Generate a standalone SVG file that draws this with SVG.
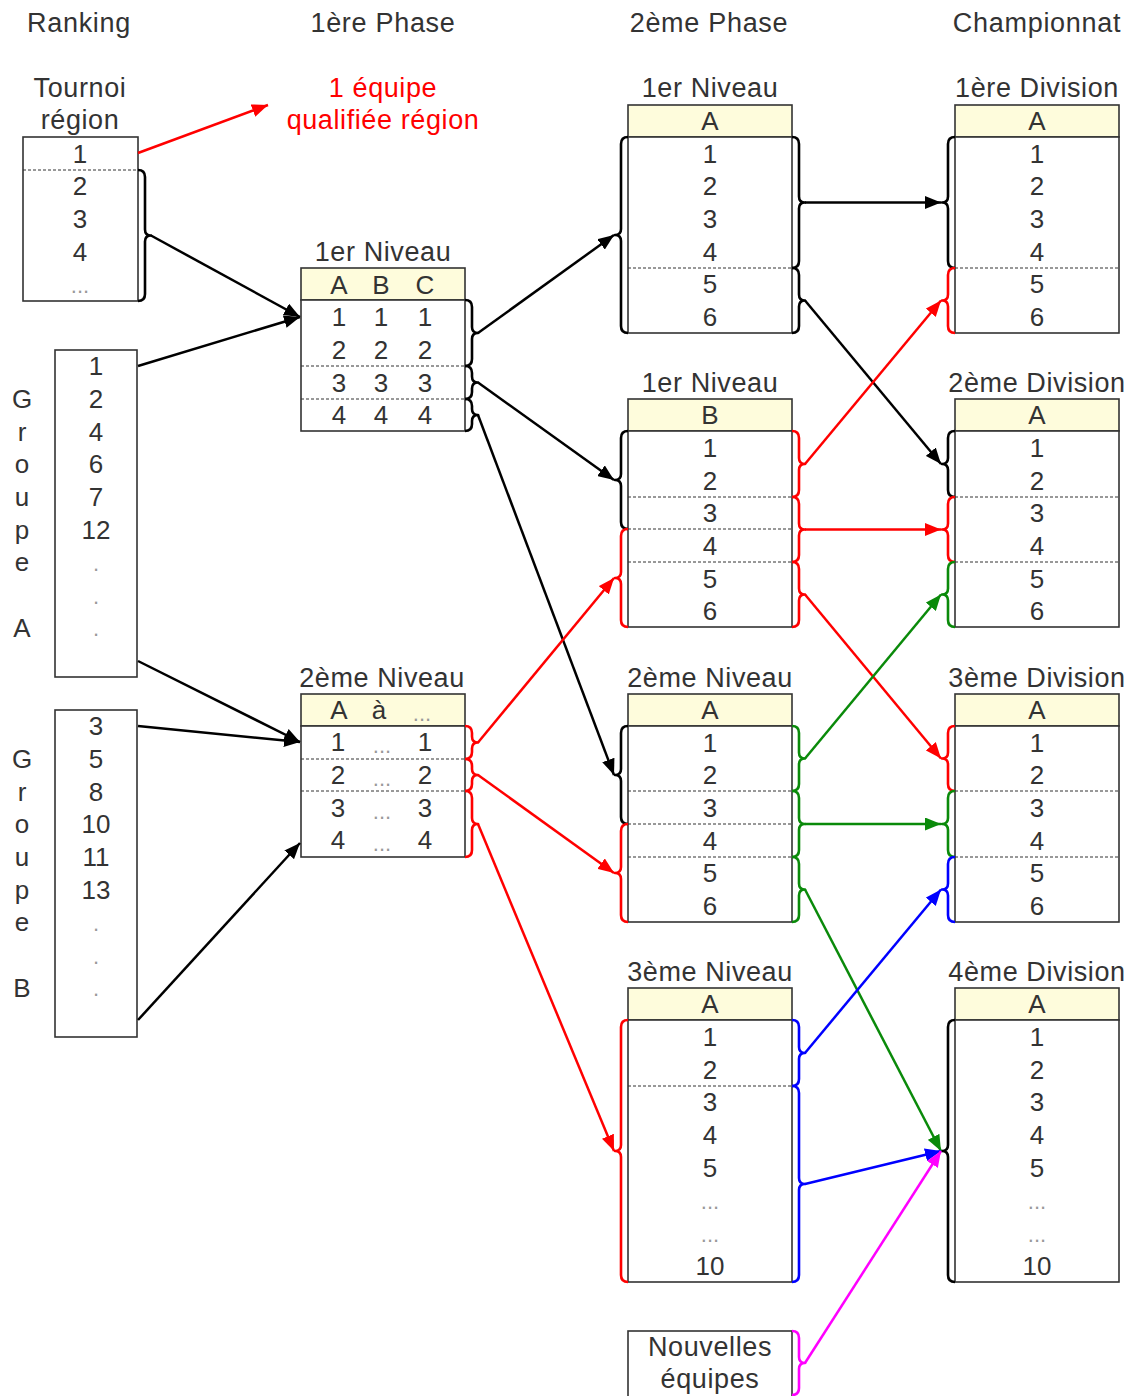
<svg xmlns="http://www.w3.org/2000/svg" width="1136" height="1396" viewBox="0 0 1136 1396">
<style>
text{font-family:"Liberation Sans",Arial,sans-serif;fill:#333;text-anchor:middle}
.h{font-size:27px;letter-spacing:0.7px}
.l{font-size:27px;letter-spacing:0.6px}
.c{font-size:26px}
.d{font-size:22px;fill:#999}
.red{fill:#f00}
.hd{fill:#fefcdc;stroke:#333;stroke-width:1.6}
.bx{fill:#fff;stroke:#333;stroke-width:1.6}
.ds{stroke:#333;stroke-width:1;stroke-dasharray:3 2}
.br{fill:none;stroke-width:2.6;stroke-linejoin:round}
.cn{fill:none;stroke-width:2.5}
.k{stroke:#000}.r{stroke:#f00}.g{stroke:#0a8a0a}.b{stroke:#00f}.m{stroke:#f0f}
</style>
<defs>
<marker id="ak" markerUnits="userSpaceOnUse" markerWidth="16" markerHeight="13" refX="16" refY="6.5" orient="auto"><path d="M0 0L16 6.5L0 13z" fill="#000"/></marker>
<marker id="ar" markerUnits="userSpaceOnUse" markerWidth="16" markerHeight="13" refX="16" refY="6.5" orient="auto"><path d="M0 0L16 6.5L0 13z" fill="#f00"/></marker>
<marker id="ag" markerUnits="userSpaceOnUse" markerWidth="16" markerHeight="13" refX="16" refY="6.5" orient="auto"><path d="M0 0L16 6.5L0 13z" fill="#0a8a0a"/></marker>
<marker id="ab" markerUnits="userSpaceOnUse" markerWidth="16" markerHeight="13" refX="16" refY="6.5" orient="auto"><path d="M0 0L16 6.5L0 13z" fill="#00f"/></marker>
<marker id="am" markerUnits="userSpaceOnUse" markerWidth="16" markerHeight="13" refX="16" refY="6.5" orient="auto"><path d="M0 0L16 6.5L0 13z" fill="#f0f"/></marker>
</defs>
<rect width="1136" height="1396" fill="#fff"/>

<g id="headers">
<text class="h" x="79" y="32">Ranking</text>
<text class="h" x="383" y="32">1ère Phase</text>
<text class="h" x="709" y="32">2ème Phase</text>
<text class="h" x="1037" y="32">Championnat</text>
</g>

<g id="tournoi">
<text class="l" x="80" y="97">Tournoi</text>
<text class="l" x="80" y="129">région</text>
<rect class="bx" x="23" y="137" width="115" height="164"/>
<line class="ds" x1="23" y1="170" x2="138" y2="170"/>
<text class="c" x="80" y="163">1</text>
<text class="c" x="80" y="195">2</text>
<text class="c" x="80" y="228">3</text>
<text class="c" x="80" y="261">4</text>
<text class="d" x="80" y="293">...</text>
</g>

<g id="qualif">
<text class="l red" x="383" y="97">1 équipe</text>
<text class="l red" x="383" y="129">qualifiée région</text>
</g>

<g id="groupeA">
<rect class="bx" x="55" y="350" width="82" height="327"/>
<text class="c" x="96" y="375">1</text>
<text class="c" x="96" y="408">2</text>
<text class="c" x="96" y="441">4</text>
<text class="c" x="96" y="473">6</text>
<text class="c" x="96" y="506">7</text>
<text class="c" x="96" y="539">12</text>
<text class="d" x="96" y="571">.</text>
<text class="d" x="96" y="604">.</text>
<text class="d" x="96" y="636">.</text>
<text class="c" x="22" y="408">G</text>
<text class="c" x="22" y="441">r</text>
<text class="c" x="22" y="473">o</text>
<text class="c" x="22" y="506">u</text>
<text class="c" x="22" y="539">p</text>
<text class="c" x="22" y="571">e</text>
<text class="c" x="22" y="637">A</text>
</g>

<g id="groupeB">
<rect class="bx" x="55" y="710" width="82" height="327"/>
<text class="c" x="96" y="735">3</text>
<text class="c" x="96" y="768">5</text>
<text class="c" x="96" y="801">8</text>
<text class="c" x="96" y="833">10</text>
<text class="c" x="96" y="866">11</text>
<text class="c" x="96" y="899">13</text>
<text class="d" x="96" y="931">.</text>
<text class="d" x="96" y="964">.</text>
<text class="d" x="96" y="996">.</text>
<text class="c" x="22" y="768">G</text>
<text class="c" x="22" y="801">r</text>
<text class="c" x="22" y="833">o</text>
<text class="c" x="22" y="866">u</text>
<text class="c" x="22" y="899">p</text>
<text class="c" x="22" y="931">e</text>
<text class="c" x="22" y="997">B</text>
</g>

<g id="p1-niveau1">
<text class="l" x="383" y="261">1er Niveau</text>
<rect class="hd" x="301" y="268" width="164" height="32"/>
<rect class="bx" x="301" y="300" width="164" height="131"/>
<line class="ds" x1="301" y1="366" x2="465" y2="366"/>
<line class="ds" x1="301" y1="399" x2="465" y2="399"/>
<text class="c" x="339" y="294">A</text><text class="c" x="381" y="294">B</text><text class="c" x="425" y="294">C</text>
<text class="c" x="339" y="326">1</text><text class="c" x="381" y="326">1</text><text class="c" x="425" y="326">1</text>
<text class="c" x="339" y="359">2</text><text class="c" x="381" y="359">2</text><text class="c" x="425" y="359">2</text>
<text class="c" x="339" y="392">3</text><text class="c" x="381" y="392">3</text><text class="c" x="425" y="392">3</text>
<text class="c" x="339" y="424">4</text><text class="c" x="381" y="424">4</text><text class="c" x="425" y="424">4</text>
</g>

<g id="p1-niveau2">
<text class="l" x="382" y="687">2ème Niveau</text>
<rect class="hd" x="301" y="694" width="164" height="32"/>
<rect class="bx" x="301" y="726" width="164" height="131"/>
<line class="ds" x1="301" y1="759" x2="465" y2="759"/>
<line class="ds" x1="301" y1="791" x2="465" y2="791"/>
<text class="c" x="339" y="719">A</text><text class="c" x="379" y="719">à</text><text class="d" x="422" y="721">...</text>
<text class="c" x="338" y="751">1</text><text class="d" x="382" y="753">...</text><text class="c" x="425" y="751">1</text>
<text class="c" x="338" y="784">2</text><text class="d" x="382" y="786">...</text><text class="c" x="425" y="784">2</text>
<text class="c" x="338" y="817">3</text><text class="d" x="382" y="819">...</text><text class="c" x="425" y="817">3</text>
<text class="c" x="338" y="849">4</text><text class="d" x="382" y="851">...</text><text class="c" x="425" y="849">4</text>
</g>

<g id="p2-niveau1A">
<text class="l" x="710" y="97">1er Niveau</text>
<rect class="hd" x="628" y="105" width="164" height="32"/>
<rect class="bx" x="628" y="137" width="164" height="196"/>
<line class="ds" x1="628" y1="268" x2="792" y2="268"/>
<text class="c" x="710" y="130">A</text>
<text class="c" x="710" y="163">1</text>
<text class="c" x="710" y="195">2</text>
<text class="c" x="710" y="228">3</text>
<text class="c" x="710" y="261">4</text>
<text class="c" x="710" y="293">5</text>
<text class="c" x="710" y="326">6</text>
</g>

<g id="p2-niveau1B">
<text class="l" x="710" y="392">1er Niveau</text>
<rect class="hd" x="628" y="399" width="164" height="32"/>
<rect class="bx" x="628" y="431" width="164" height="196"/>
<line class="ds" x1="628" y1="497" x2="792" y2="497"/>
<line class="ds" x1="628" y1="529" x2="792" y2="529"/>
<line class="ds" x1="628" y1="562" x2="792" y2="562"/>
<text class="c" x="710" y="424">B</text>
<text class="c" x="710" y="457">1</text>
<text class="c" x="710" y="490">2</text>
<text class="c" x="710" y="522">3</text>
<text class="c" x="710" y="555">4</text>
<text class="c" x="710" y="588">5</text>
<text class="c" x="710" y="620">6</text>
</g>

<g id="p2-niveau2A">
<text class="l" x="710" y="687">2ème Niveau</text>
<rect class="hd" x="628" y="694" width="164" height="32"/>
<rect class="bx" x="628" y="726" width="164" height="196"/>
<line class="ds" x1="628" y1="791" x2="792" y2="791"/>
<line class="ds" x1="628" y1="824" x2="792" y2="824"/>
<line class="ds" x1="628" y1="857" x2="792" y2="857"/>
<text class="c" x="710" y="719">A</text>
<text class="c" x="710" y="752">1</text>
<text class="c" x="710" y="784">2</text>
<text class="c" x="710" y="817">3</text>
<text class="c" x="710" y="850">4</text>
<text class="c" x="710" y="882">5</text>
<text class="c" x="710" y="915">6</text>
</g>

<g id="p2-niveau3A">
<text class="l" x="710" y="981">3ème Niveau</text>
<rect class="hd" x="628" y="988" width="164" height="32"/>
<rect class="bx" x="628" y="1020" width="164" height="262"/>
<line class="ds" x1="628" y1="1086" x2="792" y2="1086"/>
<text class="c" x="710" y="1013">A</text>
<text class="c" x="710" y="1046">1</text>
<text class="c" x="710" y="1079">2</text>
<text class="c" x="710" y="1111">3</text>
<text class="c" x="710" y="1144">4</text>
<text class="c" x="710" y="1177">5</text>
<text class="d" x="710" y="1209">...</text>
<text class="d" x="710" y="1242">...</text>
<text class="c" x="710" y="1275">10</text>
</g>

<g id="nouvelles">
<rect class="bx" x="628" y="1331" width="164" height="66"/>
<text class="l" x="710" y="1356">Nouvelles</text>
<text class="l" x="710" y="1388">équipes</text>
</g>

<g id="div1">
<text class="l" x="1037" y="97">1ère Division</text>
<rect class="hd" x="955" y="105" width="164" height="32"/>
<rect class="bx" x="955" y="137" width="164" height="196"/>
<line class="ds" x1="955" y1="268" x2="1119" y2="268"/>
<text class="c" x="1037" y="130">A</text>
<text class="c" x="1037" y="163">1</text>
<text class="c" x="1037" y="195">2</text>
<text class="c" x="1037" y="228">3</text>
<text class="c" x="1037" y="261">4</text>
<text class="c" x="1037" y="293">5</text>
<text class="c" x="1037" y="326">6</text>
</g>

<g id="div2">
<text class="l" x="1037" y="392">2ème Division</text>
<rect class="hd" x="955" y="399" width="164" height="32"/>
<rect class="bx" x="955" y="431" width="164" height="196"/>
<line class="ds" x1="955" y1="497" x2="1119" y2="497"/>
<line class="ds" x1="955" y1="562" x2="1119" y2="562"/>
<text class="c" x="1037" y="424">A</text>
<text class="c" x="1037" y="457">1</text>
<text class="c" x="1037" y="490">2</text>
<text class="c" x="1037" y="522">3</text>
<text class="c" x="1037" y="555">4</text>
<text class="c" x="1037" y="588">5</text>
<text class="c" x="1037" y="620">6</text>
</g>

<g id="div3">
<text class="l" x="1037" y="687">3ème Division</text>
<rect class="hd" x="955" y="694" width="164" height="32"/>
<rect class="bx" x="955" y="726" width="164" height="196"/>
<line class="ds" x1="955" y1="791" x2="1119" y2="791"/>
<line class="ds" x1="955" y1="857" x2="1119" y2="857"/>
<text class="c" x="1037" y="719">A</text>
<text class="c" x="1037" y="752">1</text>
<text class="c" x="1037" y="784">2</text>
<text class="c" x="1037" y="817">3</text>
<text class="c" x="1037" y="850">4</text>
<text class="c" x="1037" y="882">5</text>
<text class="c" x="1037" y="915">6</text>
</g>

<g id="div4">
<text class="l" x="1037" y="981">4ème Division</text>
<rect class="hd" x="955" y="988" width="164" height="32"/>
<rect class="bx" x="955" y="1020" width="164" height="262"/>
<text class="c" x="1037" y="1013">A</text>
<text class="c" x="1037" y="1046">1</text>
<text class="c" x="1037" y="1079">2</text>
<text class="c" x="1037" y="1111">3</text>
<text class="c" x="1037" y="1144">4</text>
<text class="c" x="1037" y="1177">5</text>
<text class="d" x="1037" y="1209">...</text>
<text class="d" x="1037" y="1242">...</text>
<text class="c" x="1037" y="1275">10</text>
</g>

<g id="braces">
<path class="br k" d="M138 170 Q145 170 145 177 L145 229.5 Q145 235.5 151 235.5 Q145 235.5 145 241.5 L145 294 Q145 301 138 301"/>
<path class="br k" d="M465 300 Q472 300 472 307 L472 327 Q472 333 478 333 Q472 333 472 339 L472 359 Q472 366 465 366"/>
<path class="br k" d="M465 366 Q472 366 472 373 L472 376.5 Q472 382.5 478 382.5 Q472 382.5 472 388.5 L472 392 Q472 399 465 399"/>
<path class="br k" d="M465 399 Q472 399 472 406 L472 409 Q472 415 478 415 Q472 415 472 421 L472 424 Q472 431 465 431"/>
<path class="br r" d="M465 726 Q472 726 472 733 L472 736.5 Q472 742.5 478 742.5 Q472 742.5 472 748.5 L472 752 Q472 759 465 759"/>
<path class="br r" d="M465 759 Q472 759 472 766 L472 769 Q472 775 478 775 Q472 775 472 781 L472 784 Q472 791 465 791"/>
<path class="br r" d="M465 791 Q472 791 472 798 L472 818 Q472 824 478 824 Q472 824 472 830 L472 850 Q472 857 465 857"/>
<path class="br k" d="M792 137 Q799 137 799 144 L799 196.5 Q799 202.5 805 202.5 Q799 202.5 799 208.5 L799 261 Q799 268 792 268"/>
<path class="br k" d="M792 268 Q799 268 799 275 L799 294.5 Q799 300.5 805 300.5 Q799 300.5 799 306.5 L799 326 Q799 333 792 333"/>
<path class="br r" d="M792 431 Q799 431 799 438 L799 458 Q799 464 805 464 Q799 464 799 470 L799 490 Q799 497 792 497"/>
<path class="br r" d="M792 497 Q799 497 799 504 L799 523.5 Q799 529.5 805 529.5 Q799 529.5 799 535.5 L799 555 Q799 562 792 562"/>
<path class="br r" d="M792 562 Q799 562 799 569 L799 588.5 Q799 594.5 805 594.5 Q799 594.5 799 600.5 L799 620 Q799 627 792 627"/>
<path class="br g" d="M792 726 Q799 726 799 733 L799 752.5 Q799 758.5 805 758.5 Q799 758.5 799 764.5 L799 784 Q799 791 792 791"/>
<path class="br g" d="M792 791 Q799 791 799 798 L799 818 Q799 824 805 824 Q799 824 799 830 L799 850 Q799 857 792 857"/>
<path class="br g" d="M792 857 Q799 857 799 864 L799 883.5 Q799 889.5 805 889.5 Q799 889.5 799 895.5 L799 915 Q799 922 792 922"/>
<path class="br b" d="M792 1020 Q799 1020 799 1027 L799 1047 Q799 1053 805 1053 Q799 1053 799 1059 L799 1079 Q799 1086 792 1086"/>
<path class="br b" d="M792 1086 Q799 1086 799 1093 L799 1178 Q799 1184 805 1184 Q799 1184 799 1190 L799 1275 Q799 1282 792 1282"/>
<path class="br m" d="M792 1331 Q799 1331 799 1338 L799 1357 Q799 1363 805 1363 Q799 1363 799 1369 L799 1388 Q799 1395 792 1395"/>
<path class="br k" d="M628 137 Q621 137 621 144 L621 229 Q621 235 615 235 Q621 235 621 241 L621 326 Q621 333 628 333"/>
<path class="br k" d="M628 431 Q621 431 621 438 L621 474 Q621 480 615 480 Q621 480 621 486 L621 522 Q621 529 628 529"/>
<path class="br r" d="M628 529 Q621 529 621 536 L621 572 Q621 578 615 578 Q621 578 621 584 L621 620 Q621 627 628 627"/>
<path class="br k" d="M628 726 Q621 726 621 733 L621 769 Q621 775 615 775 Q621 775 621 781 L621 817 Q621 824 628 824"/>
<path class="br r" d="M628 824 Q621 824 621 831 L621 867 Q621 873 615 873 Q621 873 621 879 L621 915 Q621 922 628 922"/>
<path class="br r" d="M628 1020 Q621 1020 621 1027 L621 1145 Q621 1151 615 1151 Q621 1151 621 1157 L621 1275 Q621 1282 628 1282"/>
<path class="br k" d="M955 137 Q948 137 948 144 L948 196.5 Q948 202.5 942 202.5 Q948 202.5 948 208.5 L948 261 Q948 268 955 268"/>
<path class="br r" d="M955 268 Q948 268 948 275 L948 294.5 Q948 300.5 942 300.5 Q948 300.5 948 306.5 L948 326 Q948 333 955 333"/>
<path class="br k" d="M955 431 Q948 431 948 438 L948 458 Q948 464 942 464 Q948 464 948 470 L948 490 Q948 497 955 497"/>
<path class="br r" d="M955 497 Q948 497 948 504 L948 523.5 Q948 529.5 942 529.5 Q948 529.5 948 535.5 L948 555 Q948 562 955 562"/>
<path class="br g" d="M955 562 Q948 562 948 569 L948 588.5 Q948 594.5 942 594.5 Q948 594.5 948 600.5 L948 620 Q948 627 955 627"/>
<path class="br r" d="M955 726 Q948 726 948 733 L948 752.5 Q948 758.5 942 758.5 Q948 758.5 948 764.5 L948 784 Q948 791 955 791"/>
<path class="br g" d="M955 791 Q948 791 948 798 L948 818 Q948 824 942 824 Q948 824 948 830 L948 850 Q948 857 955 857"/>
<path class="br b" d="M955 857 Q948 857 948 864 L948 883.5 Q948 889.5 942 889.5 Q948 889.5 948 895.5 L948 915 Q948 922 955 922"/>
<path class="br k" d="M955 1020 Q948 1020 948 1027 L948 1145 Q948 1151 942 1151 Q948 1151 948 1157 L948 1275 Q948 1282 955 1282"/>
</g>

<g id="connectors">
<line class="cn k" x1="151" y1="235.5" x2="300" y2="317" marker-end="url(#ak)"/>
<line class="cn k" x1="138" y1="366" x2="300" y2="317" marker-end="url(#ak)"/>
<line class="cn k" x1="138" y1="661" x2="300" y2="742" marker-end="url(#ak)"/>
<line class="cn k" x1="138" y1="726" x2="300" y2="742" marker-end="url(#ak)"/>
<line class="cn k" x1="138" y1="1020" x2="300" y2="843" marker-end="url(#ak)"/>
<line class="cn k" x1="478" y1="333" x2="614" y2="235" marker-end="url(#ak)"/>
<line class="cn k" x1="478" y1="382.5" x2="614" y2="480" marker-end="url(#ak)"/>
<line class="cn k" x1="478" y1="415" x2="614" y2="775" marker-end="url(#ak)"/>
<line class="cn k" x1="805" y1="202.5" x2="941" y2="202.5" marker-end="url(#ak)"/>
<line class="cn k" x1="805" y1="300.5" x2="941" y2="464" marker-end="url(#ak)"/>
<line class="cn r" x1="138" y1="153" x2="268" y2="105" marker-end="url(#ar)"/>
<line class="cn r" x1="805" y1="464" x2="941" y2="300.5" marker-end="url(#ar)"/>
<line class="cn r" x1="805" y1="529.5" x2="941" y2="529.5" marker-end="url(#ar)"/>
<line class="cn r" x1="805" y1="594.5" x2="941" y2="758.5" marker-end="url(#ar)"/>
<line class="cn r" x1="478" y1="742.5" x2="614" y2="578" marker-end="url(#ar)"/>
<line class="cn r" x1="478" y1="775" x2="614" y2="873" marker-end="url(#ar)"/>
<line class="cn r" x1="478" y1="824" x2="614" y2="1151" marker-end="url(#ar)"/>
<line class="cn g" x1="805" y1="758.5" x2="941" y2="594.5" marker-end="url(#ag)"/>
<line class="cn g" x1="805" y1="824" x2="941" y2="824" marker-end="url(#ag)"/>
<line class="cn g" x1="805" y1="889.5" x2="941" y2="1151" marker-end="url(#ag)"/>
<line class="cn b" x1="805" y1="1053" x2="941" y2="889.5" marker-end="url(#ab)"/>
<line class="cn b" x1="805" y1="1184" x2="941" y2="1151" marker-end="url(#ab)"/>
<line class="cn m" x1="805" y1="1363" x2="941" y2="1151" marker-end="url(#am)"/>
</g>
</svg>
